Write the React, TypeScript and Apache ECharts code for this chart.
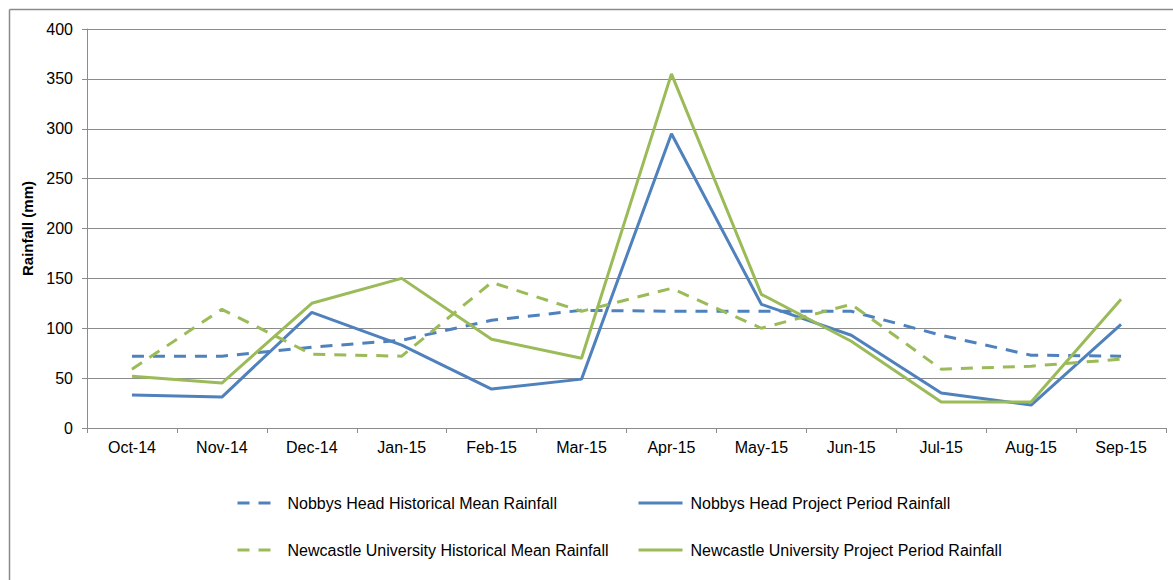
import React, { useEffect, useRef } from "react";
import * as echarts from "echarts";

const months = [
  "Oct-14", "Nov-14", "Dec-14", "Jan-15", "Feb-15", "Mar-15",
  "Apr-15", "May-15", "Jun-15", "Jul-15", "Aug-15", "Sep-15",
];

const nobbysHistorical = [72, 72, 81, 88, 108, 118, 117, 117, 117, 93, 73, 72];
const nobbysProject = [33, 31, 116, 83, 39, 49, 295, 124, 93, 35, 23, 104];
const newcastleHistorical = [59, 119, 74, 72, 146, 117, 140, 100, 124, 59, 62, 69];
const newcastleProject = [52, 45, 125, 150, 89, 70, 355, 134, 87, 26, 26, 129];

const seriesNames = [
  "Nobbys Head Historical Mean Rainfall",
  "Nobbys Head Project Period Rainfall",
  "Newcastle University Historical Mean Rainfall",
  "Newcastle University Project Period Rainfall",
];

const BLUE = "#4F81BD";
const GREEN = "#9BBB59";
const GRID = "#8c8c8c";
const FONT = "Liberation Sans";

export default function App() {
  const ref = useRef<HTMLDivElement>(null);

  useEffect(() => {
    if (!ref.current) return;
    const chart = echarts.init(ref.current, null, { renderer: "svg" });

    const dash = [12, 9];
    const lineSeries = (name: string, data: number[], color: string, dashed: boolean) => ({
      name,
      type: "line",
      data,
      symbol: "none",
      showSymbol: false,
      lineStyle: { color, width: 3, type: dashed ? dash : "solid" },
      itemStyle: { color },
    });

    const legendItem = (name: string, left: number, top: number, width: number) => ({
      data: [name],
      left,
      top,
      orient: "horizontal",
      itemWidth: width,
      itemHeight: 14,
      padding: 0,
      itemStyle: { opacity: 0 },
      lineStyle: { width: 3 },
      textStyle: { fontFamily: FONT, fontSize: 16, color: "#000", padding: [0, 0, 0, 3] },
      selectedMode: false,
    });

    chart.setOption({
      animation: false,
      backgroundColor: "#fff",
      grid: { left: 87, right: 7, top: 29, bottom: 152 },
      legend: [
        legendItem(seriesNames[0], 236, 495, 42),
        legendItem(seriesNames[1], 637, 495, 44),
        legendItem(seriesNames[2], 236, 542, 42),
        legendItem(seriesNames[3], 637, 542, 44),
      ],
      xAxis: {
        type: "category",
        data: months,
        boundaryGap: true,
        axisLine: { lineStyle: { color: GRID, width: 1 } },
        axisTick: { show: true, length: 5, lineStyle: { color: GRID } },
        axisLabel: { fontFamily: FONT, fontSize: 16, color: "#000", margin: 11 },
      },
      yAxis: {
        type: "value",
        min: 0,
        max: 400,
        interval: 50,
        name: "Rainfall (mm)",
        nameLocation: "middle",
        nameGap: 52,
        nameTextStyle: { fontFamily: FONT, fontSize: 15, fontWeight: "bold", color: "#000" },
        axisLine: { show: true, lineStyle: { color: GRID, width: 1 } },
        axisTick: { show: true, length: 5, lineStyle: { color: GRID } },
        axisLabel: { fontFamily: FONT, fontSize: 16, color: "#000", margin: 14 },
        splitLine: { lineStyle: { color: GRID, width: 1 } },
      },
      series: [
        lineSeries(seriesNames[0], nobbysHistorical, BLUE, true),
        lineSeries(seriesNames[1], nobbysProject, BLUE, false),
        lineSeries(seriesNames[2], newcastleHistorical, GREEN, true),
        lineSeries(seriesNames[3], newcastleProject, GREEN, false),
      ],
      graphic: [
        {
          type: "line",
          shape: { x1: 9.5, y1: 9.5, x2: 1173, y2: 9.5 },
          style: { stroke: "#8a8a8a", lineWidth: 1.5 },
          silent: true,
        },
        {
          type: "line",
          shape: { x1: 9.5, y1: 9.5, x2: 9.5, y2: 580 },
          style: { stroke: "#8a8a8a", lineWidth: 1.5 },
          silent: true,
        },
      ],
    });

    return () => chart.dispose();
  }, []);

  return (
    <div
      ref={ref}
      style={{ position: "fixed", left: 0, top: 0, width: 1173, height: 580 }}
    />
  );
}
